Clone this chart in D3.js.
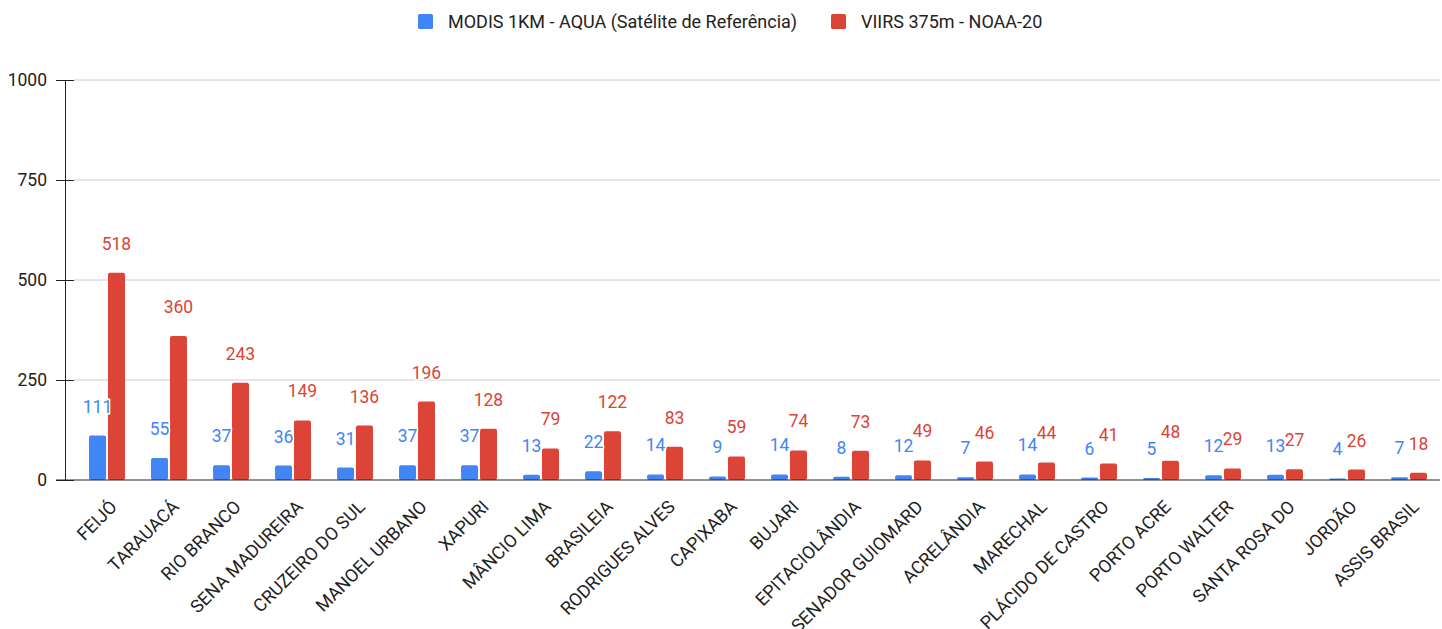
<!DOCTYPE html>
<html>
<head>
<meta charset="utf-8">
<script src="https://cdn.jsdelivr.net/npm/d3@7"></script>
<style>
  body { margin: 0; background: #fff; }
  svg { font-family: Roboto, "Noto Sans", sans-serif; }
</style>
</head>
<body>
<svg id="chart"></svg>
<script>
const width = 1442;
const height = 629;

const cities = ['FEIJÓ', 'TARAUACÁ', 'RIO BRANCO', 'SENA MADUREIRA', 'CRUZEIRO DO SUL',
  'MANOEL URBANO', 'XAPURI', 'MÂNCIO LIMA', 'BRASILEIA', 'RODRIGUES ALVES', 'CAPIXABA',
  'BUJARI', 'EPITACIOLÂNDIA', 'SENADOR GUIOMARD', 'ACRELÂNDIA', 'MARECHAL',
  'PLÁCIDO DE CASTRO', 'PORTO ACRE', 'PORTO WALTER', 'SANTA ROSA DO', 'JORDÃO', 'ASSIS BRASIL'];
const modis = [111, 55, 37, 36, 31, 37, 37, 13, 22, 14, 9, 14, 8, 12, 7, 14, 6, 5, 12, 13, 4, 7];
const viirs = [518, 360, 243, 149, 136, 196, 128, 79, 122, 83, 59, 74, 73, 49, 46, 44, 41, 48, 29, 27, 26, 18];
const seriesNames = ['MODIS 1KM - AQUA (Satélite de Referência)', 'VIIRS 375m - NOAA-20'];
const colors = ['#4285f4', '#db4437'];
const yTicks = [0, 250, 500, 750, 1000];

const svg = d3.select('#chart').attr('width', width).attr('height', height);

const axisX = 65;
const x0 = d3.scaleBand().domain(cities).range([76, 1440]);
const x1 = d3.scaleBand().domain([0, 1])
  .range([x0.bandwidth() * 0.21, x0.bandwidth() * 0.79])
  .paddingInner(0.1);
const y = d3.scaleLinear().domain([0, 1000]).range([480, 80]);

// gridlines
svg.append('g')
  .selectAll('line')
  .data(yTicks.filter(d => d > 0))
  .join('line')
  .attr('x1', 74).attr('x2', 1440)
  .attr('y1', d => y(d)).attr('y2', d => y(d))
  .attr('stroke', '#cccccc');

// y axis
const yAxis = d3.axisLeft(y).tickValues(yTicks).tickFormat(d3.format('d'))
  .tickSize(9).tickPadding(9);
const gy = svg.append('g').attr('transform', `translate(${axisX},0)`).call(yAxis);
gy.select('.domain').attr('stroke', '#222');
gy.selectAll('.tick line').attr('stroke', '#222').attr('x2', 9).attr('x1', -9);
gy.selectAll('.tick text').attr('fill', '#222').style('font-size', '17.5px')
  .style('font-family', 'Roboto, sans-serif');

const series = [modis, viirs];

const groups = svg.append('g')
  .selectAll('g')
  .data(cities)
  .join('g')
  .attr('transform', d => `translate(${x0(d)},0)`);

groups.selectAll('rect')
  .data((d, i) => series.map((s, k) => ({k, v: s[i]})))
  .join('rect')
  .attr('x', d => x1(d.k))
  .attr('width', x1.bandwidth())
  .attr('y', d => y(d.v))
  .attr('height', d => y(0) - y(d.v))
  .attr('rx', 2)
  .attr('fill', d => colors[d.k]);

// baseline
svg.append('line')
  .attr('x1', axisX - 9).attr('x2', 1440)
  .attr('y1', y(0)).attr('y2', y(0))
  .attr('stroke', '#222');

// value labels
groups.selectAll('text.val')
  .data((d, i) => series.map((s, k) => ({k, v: s[i]})))
  .join('text')
  .attr('class', 'val')
  .attr('x', d => x1(d.k) + x1.bandwidth() / 2)
  .attr('y', d => y(d.v) - 23)
  .attr('text-anchor', 'middle')
  .style('font-size', '17.5px')
  .attr('fill', d => colors[d.k])
  .attr('stroke', '#fff')
  .attr('stroke-width', 3)
  .attr('paint-order', 'stroke')
  .text(d => d.v);

// category labels
svg.append('g')
  .selectAll('text')
  .data(cities)
  .join('text')
  .attr('transform', d => `translate(${x0(d) + x0.bandwidth() / 2 + 11},508) rotate(-45)`)
  .attr('text-anchor', 'end')
  .style('font-size', '18px')
  .attr('fill', '#222')
  .text(d => d);

// legend
const legend = svg.append('g');
const legendX = [418, 831];
seriesNames.forEach((name, k) => {
  legend.append('rect')
    .attr('x', legendX[k]).attr('y', 14)
    .attr('width', 15).attr('height', 15)
    .attr('rx', 1.5)
    .attr('fill', colors[k]);
  legend.append('text')
    .attr('x', legendX[k] + 30).attr('y', 28)
    .style('font-size', '18px')
    .attr('fill', '#222')
    .text(name);
});
</script>
</body>
</html>
